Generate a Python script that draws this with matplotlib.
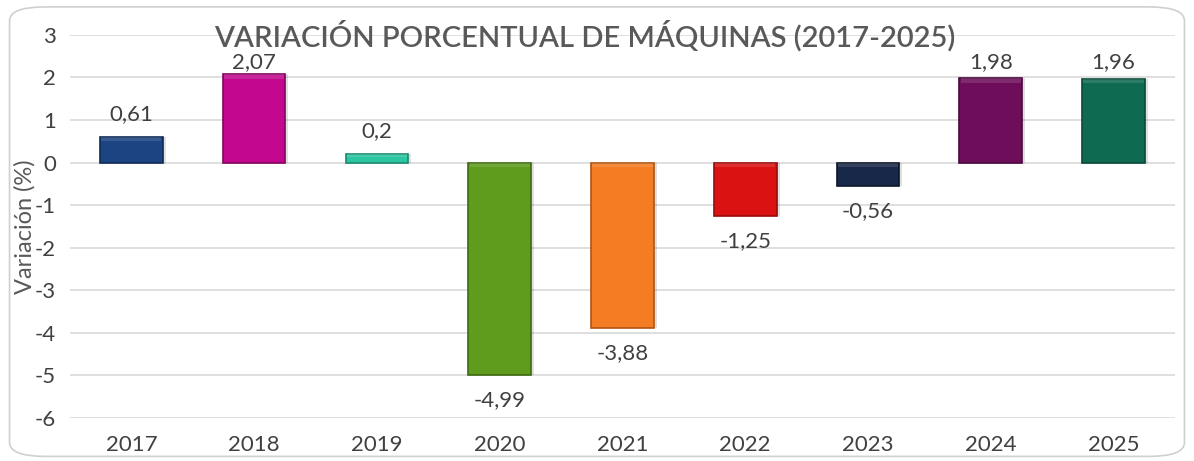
import matplotlib.pyplot as plt
from matplotlib.patches import FancyBboxPatch

# Data
years = ["2017", "2018", "2019", "2020", "2021", "2022", "2023", "2024", "2025"]
values = [0.61, 2.07, 0.2, -4.99, -3.88, -1.25, -0.56, 1.98, 1.96]
colors = ["#1C4483", "#C4078F", "#2CC7A2", "#5F9B1C", "#F47C22",
          "#DB1212", "#182848", "#6E0E5A", "#0F6A52"]
edge_colors = ["#102A55", "#80055E", "#1A8A70", "#3E6A10", "#B05510",
               "#9A0A0A", "#0C1628", "#4A083C", "#094A39"]
labels = ["0,61", "2,07", "0,2", "-4,99", "-3,88", "-1,25", "-0,56", "1,98", "1,96"]

plt.rcParams['font.family'] = ['Lato', 'DejaVu Sans']
plt.rcParams['axes.unicode_minus'] = False

fig = plt.figure(figsize=(11.94, 4.61), dpi=100)
ax = fig.add_axes([0.0586, 0.0933, 0.9254, 0.831])

x = range(len(years))
# soft shadow under bars
ax.bar([i + 0.02 for i in x], values, width=0.52, color="#000000", alpha=0.12, zorder=2)
ax.bar(x, values, width=0.51, color=colors, edgecolor=edge_colors, linewidth=1.2, zorder=3)
# faint top highlight for a slight bevel look
for i, v in enumerate(values):
    top = max(v, 0)
    h = min(0.1, abs(v) * 0.4)
    ax.bar(i, h, bottom=top - h, width=0.49, color="white", alpha=0.12, zorder=4, linewidth=0)

# data labels (the tallest one is kept just under the title)
for i, (v, lab) in enumerate(zip(values, labels)):
    if v >= 0:
        ax.text(i, min(v + 0.3, 2.12), lab, ha="center", va="bottom", fontsize=16, color="#404040", zorder=5)
    else:
        ax.text(i, v - 0.35, lab, ha="center", va="top", fontsize=16, color="#404040", zorder=5)

ax.set_ylim(-6, 3)
ax.set_xlim(-0.5, len(years) - 0.5)
ax.set_yticks(range(-6, 4))
ax.set_xticks(list(x))
ax.set_xticklabels(years)
ax.tick_params(axis="x", length=0, labelsize=16, labelcolor="#404040", pad=12)
ax.tick_params(axis="y", length=0, labelsize=16, labelcolor="#404040", pad=10)
ax.yaxis.grid(True, color="#D9D9D9", linewidth=1.2, zorder=0)
ax.set_axisbelow(True)
for s in ax.spines.values():
    s.set_visible(False)

ax.set_ylabel("Variación (%)", fontsize=17, color="#595959")
ax.yaxis.set_label_coords(-0.031, 0.5)

fig.text(0.49, 0.922, "VARIACIÓN PORCENTUAL DE MÁQUINAS (2017-2025)", ha="center", va="center",
         fontsize=21, fontweight="semibold", color="#595959")

# rounded border
border = FancyBboxPatch((0.008, 0.01), 0.984, 0.975, boxstyle="round,pad=0,rounding_size=0.03",
                        transform=fig.transFigure, facecolor="none", edgecolor="#D0D0D0", linewidth=1.2)
fig.patches.append(border)

fig.savefig("out.png", dpi=100)
